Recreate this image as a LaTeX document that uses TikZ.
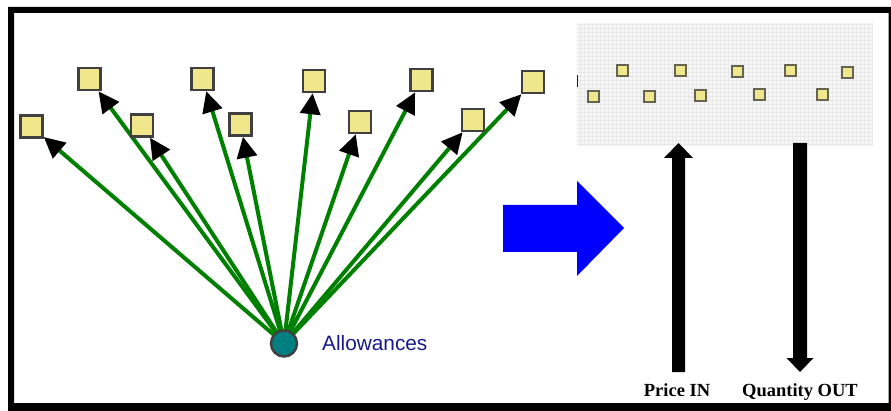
\documentclass[tikz,border=0pt]{standalone}
\usepackage{fontspec}
\setmainfont{Liberation Serif}
\newfontfamily\labelsans{Liberation Sans}
\usetikzlibrary{arrows.meta,backgrounds}

\definecolor{khaki}{RGB}{240,230,140}
\definecolor{edgegray}{RGB}{64,64,64}
\definecolor{olivegray}{RGB}{100,100,80}
\definecolor{linkgreen}{RGB}{0,128,0}
\definecolor{hubteal}{RGB}{0,128,128}
\definecolor{labelnavy}{RGB}{25,25,140}
\definecolor{gridfill}{RGB}{246,246,246}
\definecolor{gridline}{RGB}{232,232,232}

\begin{document}
\begin{tikzpicture}[x=1pt,y=-1pt,
  item/.style={draw=edgegray,fill=khaki,line width=2.5pt,minimum size=22pt,inner sep=0pt},
  smallitem/.style={draw=olivegray,fill=khaki,line width=2pt,minimum size=11pt,inner sep=0pt},
  hubnode/.style={circle,draw=edgegray,fill=hubteal,line width=2.5pt,minimum size=26pt,inner sep=0pt},
  link/.style={draw=linkgreen,line width=4pt,-{Triangle[length=21pt,width=20pt,black]}},
  caption/.style={font=\bfseries\fontsize{18.5}{22}\selectfont,inner sep=0pt,anchor=base}
]
\useasboundingbox (0,0) rectangle (891,411);
\clip (0,0) rectangle (891,411);
\begin{scope}[on background layer]
  \fill[white] (0,0) rectangle (891,411);
\end{scope}

% outer frame
\fill[black,even odd rule] (8,7) rectangle (896,416) (14,13) rectangle (888.5,403);

% individual agents linked to the allowance pool
\node[item] (sq1)  at (31.5,126.5) {};
\node[item] (sq2)  at (89.5,79) {};
\node[item] (sq3)  at (142,125.5) {};
\node[item] (sq4)  at (202.5,79) {};
\node[item] (sq5)  at (240.5,124.5) {};
\node[item] (sq6)  at (314,81) {};
\node[item] (sq7)  at (360,122) {};
\node[item] (sq8)  at (421.5,80) {};
\node[item] (sq9)  at (473,120) {};
\node[item] (sq10) at (533,82) {};

\node[hubnode] (hub) at (284,343.5) {};
\node[anchor=west,inner sep=0pt,text=labelnavy,font=\labelsans\fontsize{20.8}{24}\selectfont] (hublabel) at (322,343) {Allowances};

\begin{scope}[on background layer]
  \foreach \s in {sq1,sq2,sq3,sq4,sq5,sq6,sq7,sq8,sq9,sq10}
    \draw[link] (hub.center) -- (\s);
\end{scope}

% transition arrow
\fill[blue] (503,205) -- (577,205) -- (577,181) -- (624,228) -- (577,276) -- (577,252) -- (503,252) -- cycle;

% aggregated market panel
\fill[gridfill] (577,23) rectangle (872,146);
\draw[gridline,line width=0.5pt,step=4pt] (577,23) grid (872,146);
\draw[blue,line width=1pt] (577.5,75) -- (577.5,87);

\node[smallitem] (m1)  at (622,71) {};
\node[smallitem] (m2)  at (680,71) {};
\node[smallitem] (m3)  at (737,72) {};
\node[smallitem] (m4)  at (790,71) {};
\node[smallitem] (m5)  at (847,73) {};
\node[smallitem] (m6)  at (593,97) {};
\node[smallitem] (m7)  at (649,97) {};
\node[smallitem] (m8)  at (700,96) {};
\node[smallitem] (m9)  at (759,95) {};
\node[smallitem] (m10) at (822,95) {};

% price in / quantity out
\fill[black] (672,372) -- (672,158) -- (664,158) -- (678.5,143) -- (693,158) -- (685,158) -- (685,372) -- cycle;
\fill[black] (793,143) -- (807,143) -- (807,358) -- (813.5,358) -- (800,372) -- (786.5,358) -- (793,358) -- cycle;

\node[caption] (pricein) at (677,396) {Price IN};
\node[caption] (qtyout) at (800,396) {Quantity OUT};
\end{tikzpicture}
\end{document}
